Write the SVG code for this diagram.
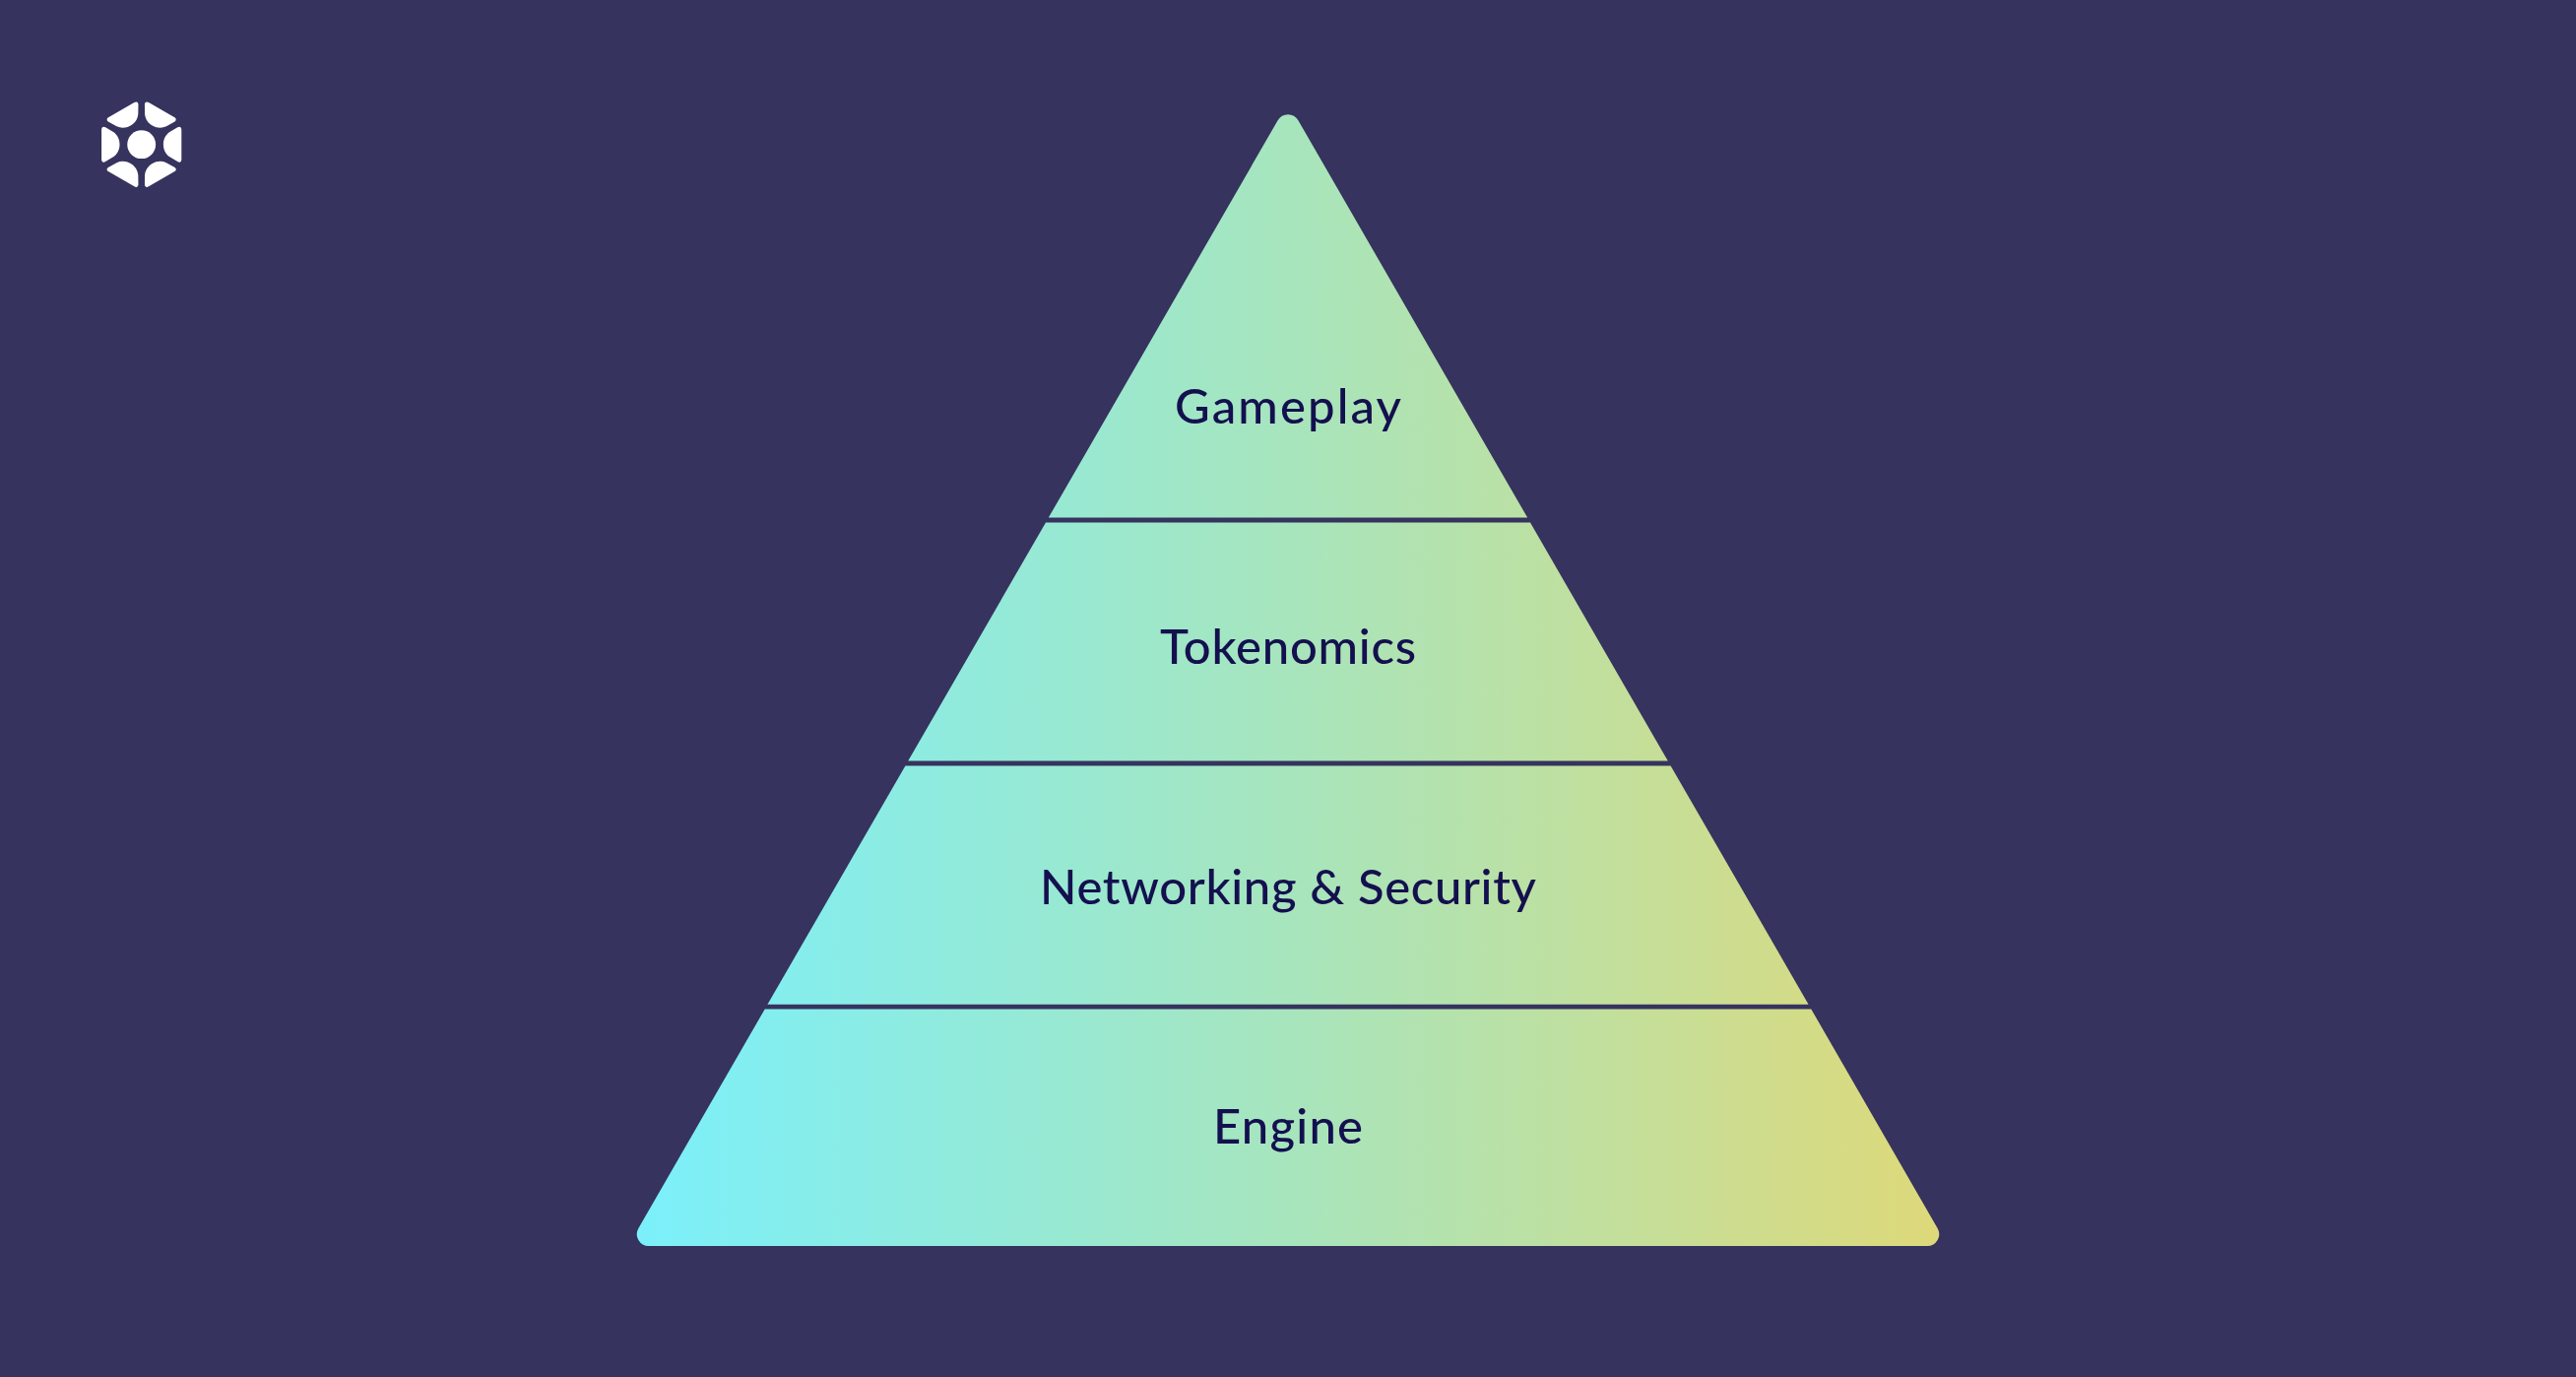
<svg xmlns="http://www.w3.org/2000/svg" width="2616" height="1398" viewBox="0 0 2616 1398">
<style>
.tier{fill:url(#g)}
.label{font-family:"Lato","Liberation Sans",sans-serif;font-size:49px;font-weight:500;fill:#14104f;text-anchor:middle}
.logo{fill:#fff}
</style>
<defs>
<linearGradient id="g" gradientUnits="userSpaceOnUse" x1="646" y1="0" x2="1970" y2="0">
<stop offset="0" stop-color="#7bf0fb"/>
<stop offset="0.5" stop-color="#a7e5bd"/>
<stop offset="1" stop-color="#ded97a"/>
</linearGradient>
<path id="petal" d="M-40.6-15C-40.6-18-38.6-18.6-36.6-17.4L-28.6-12.6C-24.6-9.8-22.2-5.4-22.2 0C-22.2 5.4-24.6 9.8-28.6 12.6L-36.6 17.4C-38.6 18.6-40.6 18-40.6 15Z"/>
</defs>
<rect width="2616" height="1398" fill="#36335f"/>
<g id="logo" class="logo" transform="translate(143.7 146.7)">
<circle r="14.4"/>
<use href="#petal"/>
<use href="#petal" transform="rotate(60)"/>
<use href="#petal" transform="rotate(120)"/>
<use href="#petal" transform="rotate(180)"/>
<use href="#petal" transform="rotate(240)"/>
<use href="#petal" transform="rotate(300)"/>
</g>
<g id="tier-gameplay">
<path class="tier" d="M1297.6 122.3A12 12 0 0 1 1318.4 122.3L1551.2 525.6H1064.8Z"/>
<text class="label" x="1308" y="429.5" textLength="230">Gameplay</text>
</g>
<g id="tier-tokenomics">
<path class="tier" d="M1062 530.4H1554L1693.8 772.6H922.2Z"/>
<text class="label" x="1308" y="673.5" textLength="260">Tokenomics</text>
</g>
<g id="tier-networking">
<path class="tier" d="M919.4 777.4H1696.6L1836.6 1019.8H779.4Z"/>
<text class="label" x="1308" y="917.5" textLength="504">Networking &amp; Security</text>
</g>
<g id="tier-engine">
<path class="tier" d="M776.7 1024.6H1839.3L1967.6 1247A12 12 0 0 1 1957.2 1265H658.8A12 12 0 0 1 648.4 1247Z"/>
<text class="label" x="1308" y="1160.5" textLength="152">Engine</text>
</g>
<g id="connectors"/>
</svg>
